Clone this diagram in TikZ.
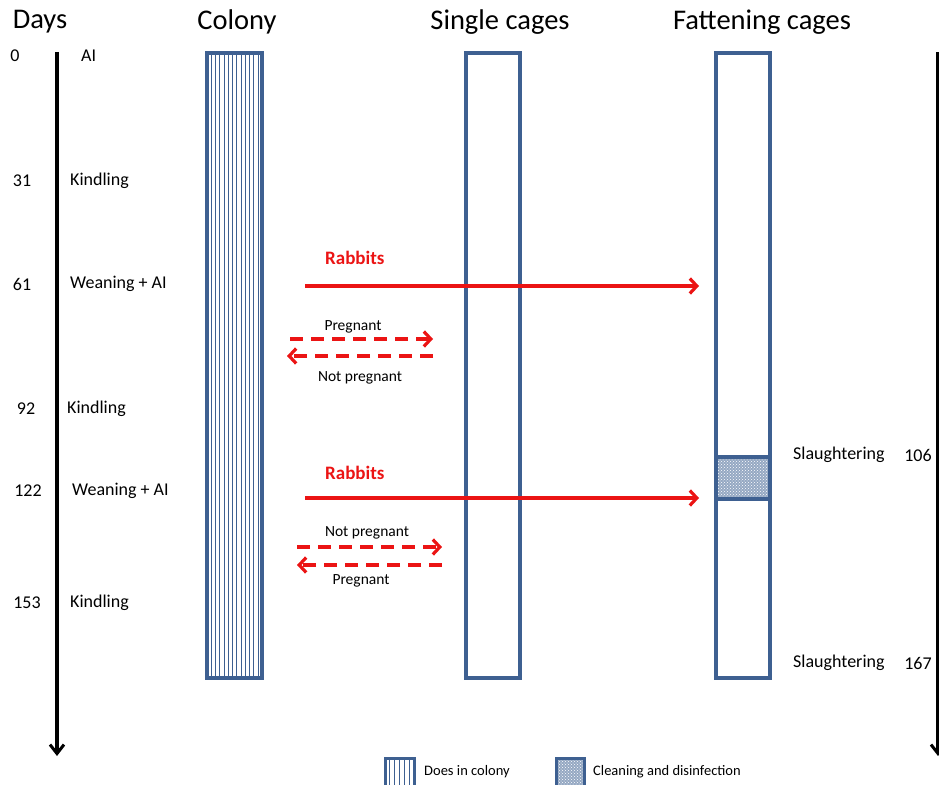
\documentclass[tikz,border=0pt]{standalone}
\usepackage{fontspec}
\setmainfont{Carlito}
\usetikzlibrary{arrows.meta,patterns}
\definecolor{cageblue}{RGB}{62,96,145}
\definecolor{rabred}{RGB}{235,20,20}
\newcommand{\fs}[1]{\fontsize{#1}{#1}\selectfont}

\begin{document}
\begin{tikzpicture}[x=1pt,y=-1pt,
  head/.style={font=\fs{28.5}},
  lab/.style={font=\fs{18}, inner sep=0pt},
  small/.style={font=\fs{15.5}, inner sep=0pt},
  axis/.style={line width=3.5pt, -{Straight Barb[length=9pt,width=14pt,line width=3pt]}},
  cage/.style={draw=cageblue, line width=3.5pt},
  redarrow/.style={draw=rabred, line width=3.2pt, -{Straight Barb[length=7pt,width=15pt]}},
  preg/.style={redarrow, dash pattern=on 13pt off 8pt}]
  \clip (0,0) rectangle (939,784);

  % headings
  \node[head] (days) at (40,22) {Days};
  \node[head] (colony) at (237,22) {Colony};
  \node[head] (single) at (500,22) {Single cages};
  \node[head] (fatten) at (762,22) {Fattening cages};

  % time axes
  \coordinate (lefttop) at (57,52);
  \coordinate (leftbot) at (57,756);
  \draw[axis] (lefttop) -- (leftbot);
  \coordinate (righttop) at (938,52);
  \coordinate (rightbot) at (938,756);
  \draw[axis] (righttop) -- (rightbot);

  % days
  \node[lab] (d0) at (15,56) {0};
  \node[lab, anchor=west] (ai0) at (81,56) {AI};
  \node[lab] (d31) at (22,181) {31};
  \node[lab, anchor=west] (kin31) at (70,181) {Kindling};
  \node[lab] (d61) at (22,284) {61};
  \node[lab, anchor=west] (wean61) at (70,284) {Weaning + AI};
  \node[lab] (d92) at (26,409) {92};
  \node[lab, anchor=west] (kin92) at (67,409) {Kindling};
  \node[lab] (d122) at (28,491) {122};
  \node[lab, anchor=west] (wean122) at (72,491) {Weaning + AI};
  \node[lab] (d153) at (27,603) {153};
  \node[lab, anchor=west] (kin153) at (70,603) {Kindling};

  % cages
  \foreach \i in {1,...,12}
    \draw[cageblue, line width=1pt] (207+\i*4.25,53) -- (207+\i*4.25,678);
  \draw[cage] (207,53) rectangle (262,678);
  \draw[cage] (466,53) rectangle (520,678);
  \fill[cageblue!55] (716,457) rectangle (770,499);
  \fill[pattern=crosshatch dots, pattern color=white] (716,457) rectangle (770,499);
  \draw[cage] (716,53) rectangle (770,678);
  \draw[cage] (716,457) -- (770,457) (716,499) -- (770,499);

  % slaughtering
  \node[lab, anchor=west] (sl106) at (793,455) {Slaughtering};
  \node[lab] (n106) at (918,455) {106};
  \node[lab, anchor=west] (sl167) at (793,663) {Slaughtering};
  \node[lab] (n167) at (918,663) {167};

  % rabbits to fattening
  \node[lab, font=\fs{19}\bfseries, text=rabred, anchor=west] (rab1) at (325,258) {Rabbits};
  \coordinate (rab1s) at (305,286);
  \coordinate (rab1e) at (699,286);
  \draw[redarrow] (rab1s) -- (rab1e);
  \node[lab, font=\fs{19}\bfseries, text=rabred, anchor=west] (rab2) at (325,473) {Rabbits};
  \coordinate (rab2s) at (305,498);
  \coordinate (rab2e) at (699,498);
  \draw[redarrow] (rab2s) -- (rab2e);

  % does between colony and single cages
  \node[small] (preg1) at (353,327) {Pregnant};
  \coordinate (p1a) at (290,339);
  \coordinate (p1b) at (433,339);
  \draw[preg] (p1a) -- (p1b);
  \coordinate (np1a) at (433,356);
  \coordinate (np1b) at (287,356);
  \draw[preg] (np1a) -- (np1b);
  \node[small] (npreg1) at (360,378) {Not pregnant};

  \node[small] (npreg2) at (367,533) {Not pregnant};
  \coordinate (np2a) at (297,547);
  \coordinate (np2b) at (442,547);
  \draw[preg] (np2a) -- (np2b);
  \coordinate (p2a) at (442,565);
  \coordinate (p2b) at (297,565);
  \draw[preg] (p2a) -- (p2b);
  \node[small] (preg2) at (361,581) {Pregnant};

  % legend
  \foreach \i in {1,...,5}
    \draw[cageblue, line width=1pt] (385+\i*4.8,758) -- (385+\i*4.8,790);
  \draw[cage, line width=3pt] (385,758) rectangle (414,790);
  \node[small, font=\fs{14.5}, anchor=west] (legcol) at (424,772) {Does in colony};
  \fill[cageblue!55] (556,758) rectangle (584,790);
  \fill[pattern=crosshatch dots, pattern color=white] (556,758) rectangle (584,790);
  \draw[cage, line width=3pt] (556,758) rectangle (584,790);
  \node[small, font=\fs{14.5}, anchor=west] (legclean) at (593,772) {Cleaning and disinfection};
\end{tikzpicture}
\end{document}
